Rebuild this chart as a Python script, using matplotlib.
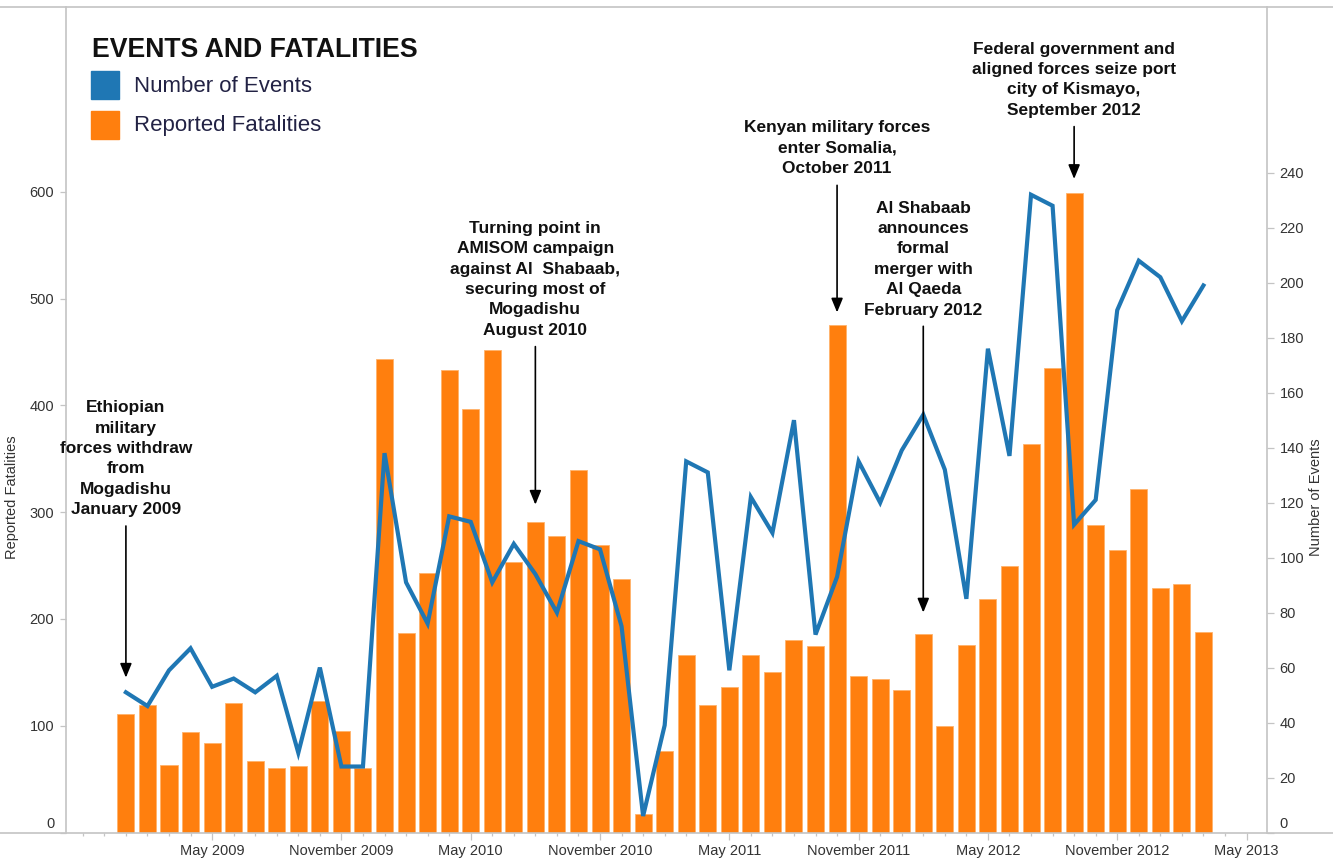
import matplotlib
matplotlib.use("Agg")
import matplotlib.pyplot as plt
from matplotlib.lines import Line2D
from matplotlib.patches import Rectangle
from matplotlib.ticker import FixedLocator, NullFormatter
import matplotlib.transforms as mtransforms
import numpy as np
import pandas as pd

# ---------------- data ----------------
months = pd.period_range("2009-01", "2013-03", freq="M")

fatalities = [111, 119, 63, 94, 84, 121, 67, 60, 62, 123, 95, 60,
              443, 187, 243, 433, 397, 452, 253, 291, 278, 339, 269, 237,
              17, 76, 166, 119, 136, 166, 150, 180, 175, 475, 147, 144,
              133, 186, 100, 176, 219, 250, 364, 435, 599, 288, 265, 322,
              229, 233, 188]

events = [51, 46, 59, 67, 53, 56, 51, 57, 29, 60, 24, 24,
          138, 91, 76, 115, 113, 91, 105, 94, 80, 106, 103, 75,
          6, 39, 135, 131, 59, 122, 109, 150, 72, 93, 135, 120,
          139, 152, 132, 85, 176, 137, 232, 228, 112, 121, 190, 208,
          202, 186, 199]

tick_months = ["2009-05", "2009-11", "2010-05", "2010-11", "2011-05",
               "2011-11", "2012-05", "2012-11", "2013-05"]
tick_labels = ["May 2009", "November 2009", "May 2010", "November 2010",
               "May 2011", "November 2011", "May 2012", "November 2012",
               "May 2013"]

left_ticks = [0, 100, 200, 300, 400, 500, 600]
right_ticks = list(range(0, 241, 20))

annotations = [
    ("2009-01", "Ethiopian\nmilitary\nforces withdraw\nfrom\nMogadishu\nJanuary 2009", 350, 287, 145),
    ("2010-08", "Turning point in\nAMISOM campaign\nagainst Al  Shabaab,\nsecuring most of\nMogadishu\nAugust 2010", 518, 455, 307),
    ("2011-10", "Kenyan military forces\nenter Somalia,\nOctober 2011", 641, 606, 487),
    ("2012-02", "Al Shabaab\nannounces\nformal\nmerger with\nAl Qaeda\nFebruary 2012", 537, 474, 206),
    ("2012-09", "Federal government and\naligned forces seize port\ncity of Kismayo,\nSeptember 2012", 705, 661, 612),
]

# ---------------- style ----------------
plt.rcParams["font.family"] = ["Liberation Sans", "DejaVu Sans"]
BLUE = "#1f77b4"
ORANGE = "#ff7f0e"
GRAY = "#c4c4c4"
TXT = "#333333"

W, H = 1333, 858
fig = plt.figure(figsize=(W / 100, H / 100), dpi=100)

ax_left, ax_right, ax_top, ax_bot = 66, 1267, 7, 832.5
ax1 = fig.add_axes([ax_left / W, (H - ax_bot) / H,
                    (ax_right - ax_left) / W, (ax_bot - ax_top) / H])
ax2 = ax1.twinx()

start = months[0]
def mpos(m):
    return (pd.Period(m, freq="M") - start).n

x = np.arange(len(months))

ax1.bar(x, fatalities, width=0.79, color=ORANGE, edgecolor="#ffb36b",
        linewidth=0.6, zorder=2)
ax2.plot(x, events, color=BLUE, lw=3.0, solid_joinstyle="miter", zorder=3)

ax1.set_xlim(-2.78, 52.95)
ax1.set_ylim(0, 773)
ax2.set_ylim(0, 300.3)

# x ticks
ax1.xaxis.set_major_locator(FixedLocator([mpos(m) for m in tick_months]))
ax1.set_xticklabels(tick_labels)
ax1.xaxis.set_minor_locator(FixedLocator(np.arange(-2, 53)))
ax1.xaxis.set_minor_formatter(NullFormatter())
ax1.tick_params(axis="x", which="major", length=5, width=0.9, color=GRAY,
                labelsize=10.5, labelcolor=TXT, pad=3)
ax1.tick_params(axis="x", which="minor", length=2.3, width=0.9, color=GRAY)

# y ticks
ax1.set_yticks(left_ticks)
ax1.tick_params(axis="y", length=4.5, width=0.9, color=GRAY, labelsize=10.5,
                labelcolor=TXT, pad=4)
ax2.set_yticks(right_ticks)
ax2.tick_params(axis="y", length=5, width=0.9, color=GRAY, labelsize=10.5,
                labelcolor=TXT, pad=4)

# raise the zero labels like the reference
off = mtransforms.ScaledTranslation(0, 10 / 100, fig.dpi_scale_trans)
for axx in (ax1, ax2):
    t0 = axx.yaxis.get_major_ticks()[0]
    t0.label1.set_transform(t0.label1.get_transform() + off)
    t0.label2.set_transform(t0.label2.get_transform() + off)

for axx in (ax1, ax2):
    for s in ("top", "bottom"):
        axx.spines[s].set_visible(False)
    for s in ("left", "right"):
        axx.spines[s].set_color(GRAY)
        axx.spines[s].set_linewidth(1.2)
ax2.spines["left"].set_visible(False)
ax1.spines["right"].set_visible(False)

# full-width horizontal frame lines
for yy in (ax_top, ax_bot):
    fig.add_artist(Line2D([0, 1], [(H - yy) / H] * 2, color=GRAY, lw=1.2,
                          transform=fig.transFigure))

# axis titles
fig.text(12 / W, (H - 497) / H, "Reported Fatalities", rotation=90,
         ha="center", va="center", fontsize=10.5, color=TXT)
fig.text(1316 / W, (H - 497) / H, "Number of Events", rotation=90,
         ha="center", va="center", fontsize=10.5, color=TXT)

# title and legend
fig.text(92 / W, (H - 50) / H, "EVENTS AND FATALITIES", fontsize=19.2,
         fontweight="bold", color="#111111", ha="left", va="center")
for (yy, col, lab) in [(85, BLUE, "Number of Events"),
                       (125, ORANGE, "Reported Fatalities")]:
    fig.add_artist(Rectangle((91 / W, (H - yy - 14) / H), 28 / W, 28 / H,
                             color=col, transform=fig.transFigure))
    fig.text(134 / W, (H - yy - 1) / H, lab, fontsize=16, color="#222244",
             ha="left", va="center")

# annotations (drawn above the line)
for m, txt, ty, a0, a1 in annotations:
    xi = mpos(m)
    ax2.text(xi, ty, txt, transform=ax1.transData, ha="center", va="center",
             fontsize=12.5, fontweight="bold", color="#111111",
             linespacing=1.45, zorder=5)
    ax2.annotate("", xy=(xi, a1), xytext=(xi, a0), xycoords=ax1.transData,
                 textcoords=ax1.transData,
                 arrowprops=dict(arrowstyle="-|>,head_length=0.85,head_width=0.35",
                                 color="black", lw=1.2, mutation_scale=10,
                                 shrinkA=0, shrinkB=0), zorder=5)

fig.savefig("out.png", dpi=100)
